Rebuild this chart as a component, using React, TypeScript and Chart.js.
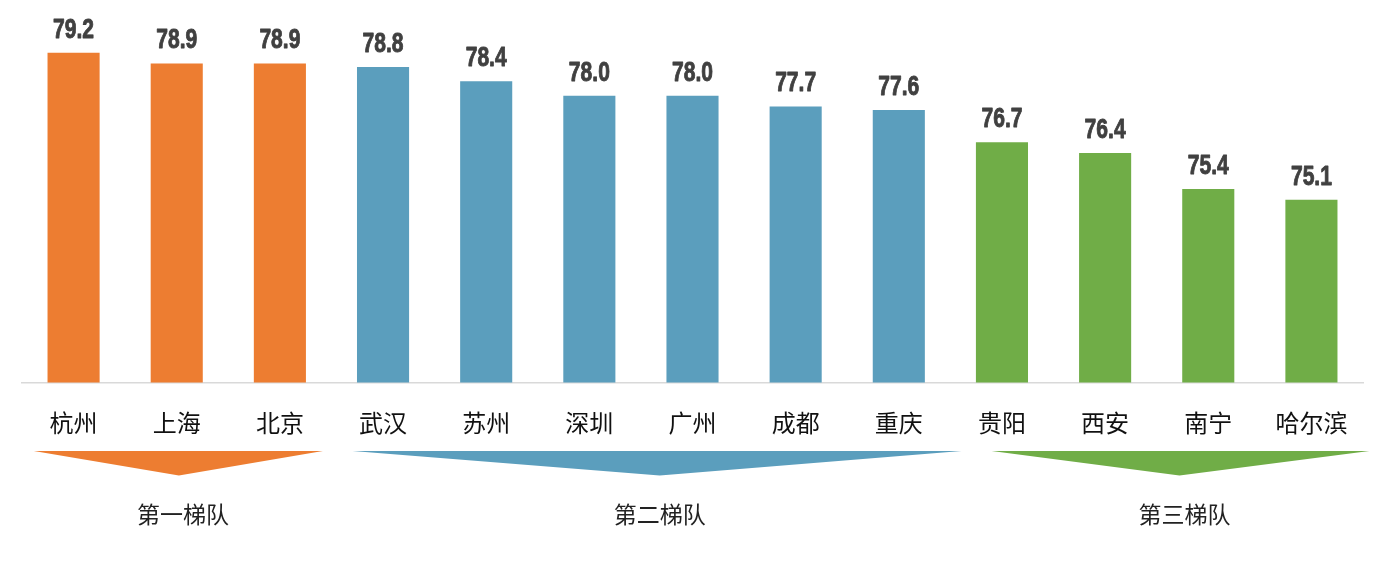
import React, { useEffect, useRef } from "react";
import { Chart, registerables } from "chart.js";

Chart.register(...registerables);

const categories = ["杭州", "上海", "北京", "武汉", "苏州", "深圳", "广州", "成都", "重庆", "贵阳", "西安", "南宁", "哈尔滨"];
const values = [79.2, 78.9, 78.9, 78.8, 78.4, 78.0, 78.0, 77.7, 77.6, 76.7, 76.4, 75.4, 75.1];
const tierOfCity = [0, 0, 0, 1, 1, 1, 1, 1, 1, 2, 2, 2, 2];
const tierNames = ["第一梯队", "第二梯队", "第三梯队"];
const tierColors = ["#ED7D31", "#5B9EBD", "#70AD47"];

const CJK = '"Noto Sans CJK SC", "Microsoft YaHei", sans-serif';

// arrow geometry relative to category indices: [start, end, tip, labelX]
const tierArrows = [
  [-0.385, 2.417, 1.021, 1.06],
  [2.705, 8.608, 5.682, 5.682],
  [8.9, 12.562, 10.721, 10.77],
];

const overlayPlugin = {
  id: "overlay",
  afterDraw(chart: any) {
    const ctx = chart.ctx;
    const x = chart.scales.x;
    const y = chart.scales.y;
    // value labels
    const meta = chart.getDatasetMeta(0);
    ctx.save();
    ctx.fillStyle = "#404040";
    ctx.strokeStyle = "#404040";
    ctx.lineWidth = 0.9;
    ctx.lineJoin = "round";
    ctx.font = 'bold 27px "Liberation Sans", Arial, sans-serif';
    ctx.textAlign = "center";
    ctx.textBaseline = "alphabetic";
    meta.data.forEach((bar: any, i: number) => {
      const txt = values[i].toFixed(1);
      ctx.save();
      ctx.translate(bar.x, bar.y - 15);
      ctx.scale(0.78, 1);
      ctx.fillText(txt, 0, 0);
      ctx.strokeText(txt, 0, 0);
      ctx.restore();
    });
    // arrows
    const baseY = y.bottom + 68.5;
    const tipY = y.bottom + 93;
    tierArrows.forEach((a, t) => {
      ctx.beginPath();
      ctx.moveTo(x.getPixelForValue(a[0]), baseY);
      ctx.lineTo(x.getPixelForValue(a[1]), baseY);
      ctx.lineTo(x.getPixelForValue(a[2]), tipY);
      ctx.closePath();
      ctx.fillStyle = tierColors[t];
      ctx.fill();
      ctx.fillStyle = "#222222";
      ctx.font = `23px ${CJK}`;
      ctx.textBaseline = "middle";
      ctx.fillText(tierNames[t], x.getPixelForValue(a[3]), y.bottom + 132);
    });
    ctx.restore();
  },
};

export default function App() {
  const ref = useRef<HTMLCanvasElement>(null);
  useEffect(() => {
    if (!ref.current) return;
    const chart = new Chart(ref.current, {
      type: "bar",
      data: {
        labels: categories,
        datasets: [
          {
            data: values,
            backgroundColor: tierOfCity.map((t) => tierColors[t]),
            barPercentage: 0.505,
            categoryPercentage: 1,
          },
        ],
      },
      options: {
        animation: false,
        responsive: false,
        maintainAspectRatio: false,
        layout: { padding: { left: 22, right: 23, top: 24, bottom: 0 } },
        plugins: { legend: { display: false }, tooltip: { enabled: false } },
        scales: {
          y: { display: false, min: 70, max: 80 },
          x: {
            grid: { display: false, drawTicks: false },
            border: { display: true, color: "#D9D9D9", width: 1.5 },
            ticks: {
              color: "#111111",
              font: { family: CJK, size: 24 },
              padding: 26,
              maxRotation: 0,
              autoSkip: false,
            },
            afterFit: (s: any) => {
              s.height = 181.5;
            },
          },
        },
      },
      plugins: [overlayPlugin],
    });
    return () => chart.destroy();
  }, []);
  return (
    <div style={{ position: "fixed", left: 0, top: 0, width: 1386, height: 564, background: "#fff" }}>
      <canvas ref={ref} width={1386} height={564} style={{ width: 1386, height: 564 }} />
    </div>
  );
}
